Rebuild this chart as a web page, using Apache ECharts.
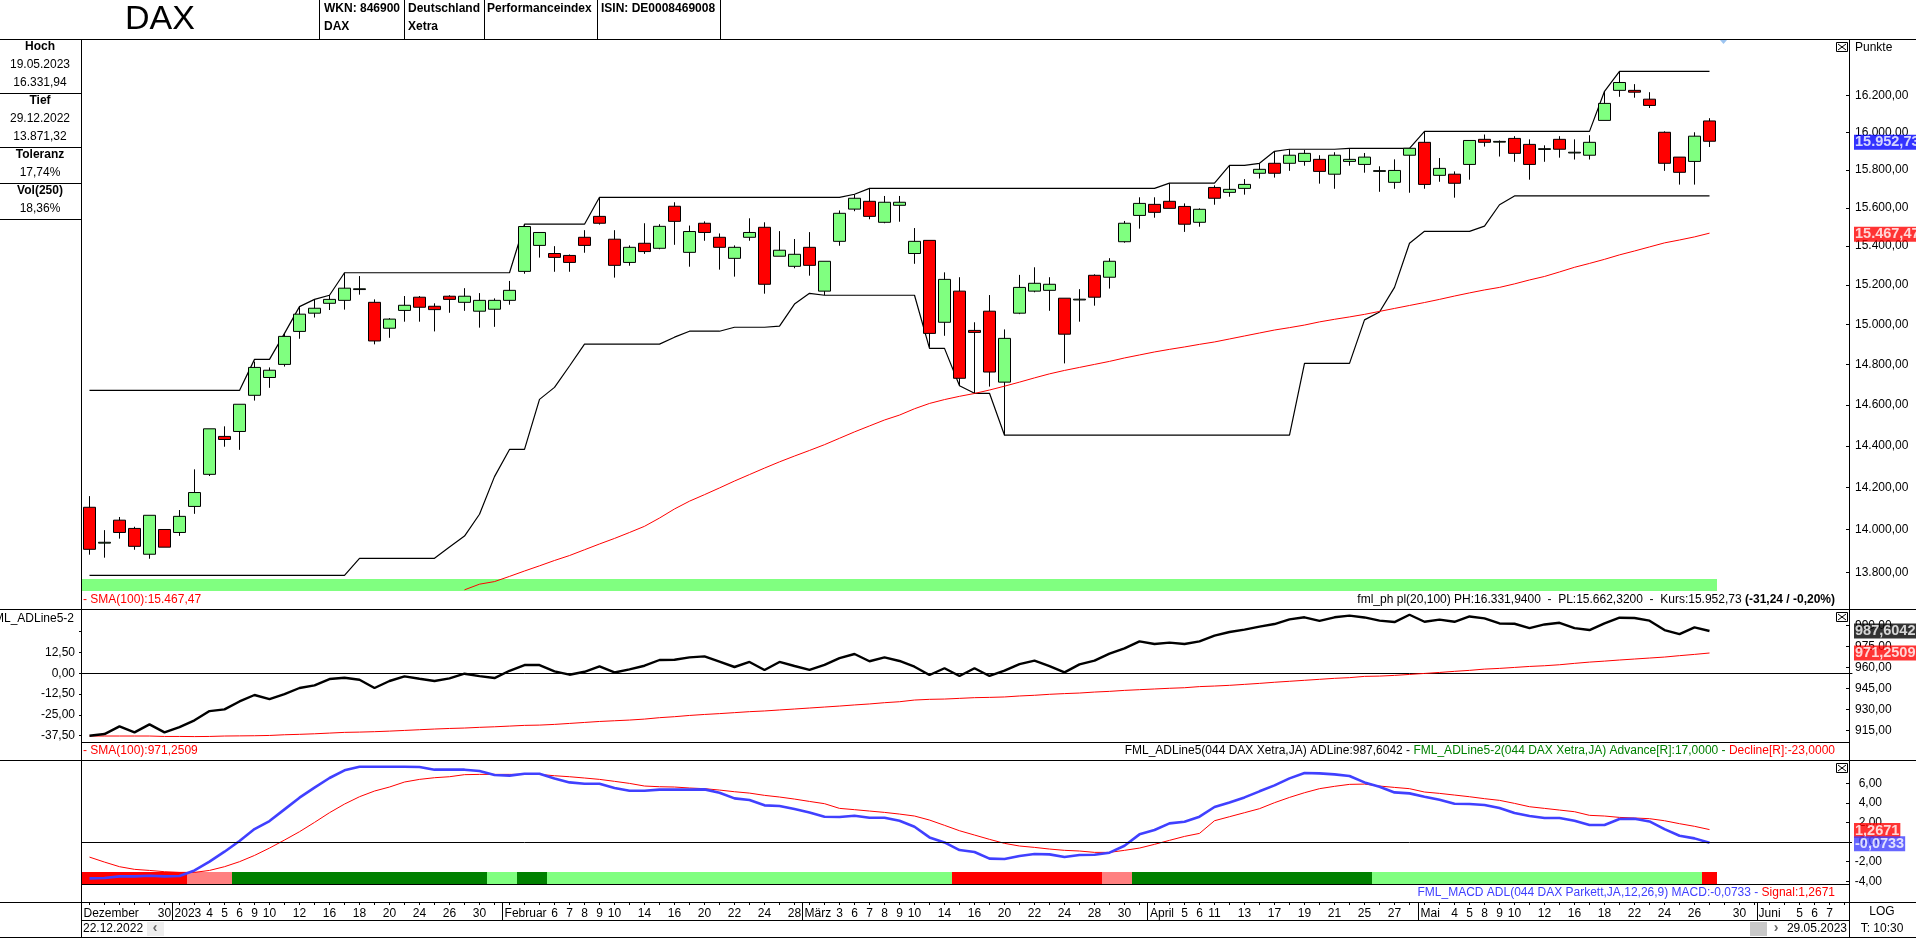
<!DOCTYPE html>
<html>
<head>
<meta charset="utf-8">
<title>DAX</title>
<script src="https://cdn.jsdelivr.net/npm/echarts@6/dist/echarts.min.js"></script>
<style>
html,body{margin:0;padding:0;background:#fff;overflow:hidden}
#chart{width:1916px;height:938px}
</style>
</head>
<body>
<div id="chart"></div>
<script>
// open, close, low, high
var candles = [
[14106,13908,13883,14159],[13937,13941,13869,13998],[14045,13987,13958,14060],[14006,13922,13906,14014],[13885,14068,13864,14068],
[14001,13918,13918,14001],[13987,14063,13971,14093],[14110,14176,14075,14287],[14263,14483,14255,14483],[14446,14431,14396,14495],
[14470,14603,14381,14603],[14647,14785,14621,14814],[14735,14771,14684,14785],[14800,14940,14789,14955],[14965,15052,14928,15090],
[15057,15082,15035,15127],[15107,15127,15073,15149],[15122,15184,15075,15263],[15177,15181,15151,15246],[15112,14917,14900,15127],
[14981,15027,14933,15032],[15071,15097,15014,15144],[15138,15087,15014,15144],[15092,15075,14965,15107],[15143,15127,15059,15148],
[15112,15143,15069,15184],[15067,15122,14984,15159],[15077,15122,14988,15132],[15122,15173,15100,15221],[15270,15502,15258,15514],
[15404,15471,15341,15471],[15362,15342,15268,15400],[15352,15316,15268,15357],[15446,15404,15366,15483],[15555,15519,15512,15655],
[15436,15301,15238,15483],[15316,15394,15299,15404],[15415,15372,15360,15519],[15389,15503,15384,15514],[15608,15529,15407,15629],
[15368,15476,15294,15507],[15519,15471,15428,15529],[15446,15394,15279,15466],[15337,15394,15243,15404],[15446,15471,15428,15545],
[15498,15204,15156,15524],[15348,15379,15348,15478],[15296,15358,15286,15437],[15394,15301,15248,15473],[15169,15322,15149,15322],
[15425,15571,15402,15586],[15593,15650,15582,15671],[15634,15555,15540,15702],[15524,15629,15519,15662],[15613,15629,15527,15662],
[15362,15425,15309,15494],[15430,14955,14885,15430],[15011,15229,14943,15265],[15169,14731,14693,15240],[14970,14960,14658,15011],
[15067,14762,14690,15149],[14712,14930,14452,14975],[15057,15188,15052,15252],[15169,15209,15163,15291],[15173,15204,15069,15240],
[15133,14951,14805,15133],[15124,15128,15014,15179],[15250,15138,15095,15255],[15240,15322,15182,15338],[15423,15519,15418,15531],
[15560,15623,15491,15655],[15618,15576,15548,15655],[15634,15597,15597,15729],[15607,15514,15474,15623],[15524,15592,15501,15597],
[15707,15650,15616,15718],[15681,15697,15658,15824],[15702,15723,15669,15751],[15782,15803,15754,15835],[15835,15782,15759,15899],
[15835,15878,15795,15910],[15845,15888,15822,15906],[15856,15792,15727,15878],[15777,15878,15700,15894],[15845,15856,15822,15915],
[15829,15868,15785,15890],[15792,15796,15684,15819],[15734,15797,15700,15856],[15878,15915,15679,15915],[15947,15723,15700,16006],
[15771,15808,15737,15863],[15777,15729,15653,15792],[15829,15957,15748,15957],[15963,15947,15924,15989],[15948,15952,15871,15957],
[15968,15888,15843,15980],[15936,15829,15748,15963],[15909,15913,15843,15931],[15963,15910,15865,15980],[15890,15894,15855,15963],
[15878,15947,15855,15985],[16065,16157,16065,16223],[16228,16271,16193,16331.94],[16228,16218,16188,16262],[16180,16146,16132,16218],
[16001,15835,15795,16006],[15868,15787,15722,15868],[15845,15980,15722,16001],[16062,15952.73,15922,16077]
];
var channelHigh = [
14671,14671,14671,14671,14671,14671,14671,14671,14671,14671,14671,14825,14825,14955,15090,15127,15148,
15263,15263,15263,15263,15263,15263,15263,15263,15263,15263,15263,15263,
15514,15514,15514,15514,15514,
15655,15655,15655,15655,15655,15655,15655,15655,15655,15655,15655,15655,15655,15655,15655,15655,15655,15671,
15702,15702,15702,15702,15702,15702,15702,15702,15702,15702,15702,15702,15702,15702,15702,15702,15702,15702,15702,15702,
15730,15730,15730,15730,15824,15824,15835,15899,15910,15910,15910,15910,15915,15915,15915,15915,15915,
16006,16006,16006,16006,16006,16006,16006,16006,16006,16006,16006,16006,16223,
16331.94,16331.94,16331.94,16331.94,16331.94,16331.94,16331.94
];
var channelLow = [
13787,13787,13787,13787,13787,13787,13787,13787,13787,13787,13787,13787,13787,13787,13787,13787,13787,13787,
13866,13866,13866,13866,13866,13866,13919,13970,14073,14252,14383,14383,14627,14686,14792,
14901,14901,14901,14901,14901,14901,14936,14966,14966,14966,14986,14986,14986,14992,15103,15158,
15148,15148,15148,15148,15148,15148,15148,14880,14880,14694,14657,14657,
14452,14452,14452,14452,14452,14452,14452,14452,14452,14452,14452,14452,14452,14452,14452,14452,14452,14452,14452,14452,
14805,14805,14805,14805,15023,15063,15188,15415,15477,15477,15477,15477,15504,15616,
15662.32,15662.32,15662.32,15662.32,15662.32,15662.32,15662.32,15662.32,15662.32,15662.32,15662.32,15662.32,15662.32,15662.32
];
var priceSma = [
null,null,null,null,null,null,null,null,null,null,null,null,null,null,null,null,null,null,null,null,null,null,null,null,null,
13720,13746,13758,13782,13807,13831,13856,13879,13906,13933,13959,13987,14016,14055,14098,14135,14166,14198,14231,14262,14293,
14323,14351,14378,14406,14437,14468,14497,14526,14550,14581,14607,14626,14642,14656,14673,14692,14712,14733,14753,14770,14785,
14800,14815,14832,14847,14862,14875,14887,14900,14912,14927,14942,14957,14972,14984,14997,15013,15026,15038,15051,15066,15081,
15096,15111,15127,15144,15160,15175,15188,15206,15226,15244,15267,15291,15311,15332,15355,15375,15396,15417,15432,15448,15467.47
];
var adLine = [
911.4,912.6,918.1,913.8,919.5,913.8,917.6,922.4,929,930.2,935.9,940.5,937.6,941.2,945.5,947.4,951.9,952.8,951.4,945.5,
950.5,953.8,952.1,950.5,952.4,955.7,954,952.6,957.8,961.9,961.9,957.4,955,957.1,960.9,956.6,958.8,961.4,965.5,965.7,967.4,
968.1,964.3,960.5,964.1,958.4,964.1,961.2,958.4,962,966.9,969.8,964.6,967.4,964.8,960.7,954.8,959.6,954.1,959.6,954.1,
957.9,962.6,965,961.2,956.7,962.4,965,970,973.8,978.8,976.9,977.9,976.9,978.8,982.9,985.5,987.2,989.3,991.2,994.5,996,993.4,996,997.2,
995.9,993.6,992.6,997.8,992.8,994.3,992.8,996.6,995.2,991.6,991.4,988.3,990.9,992.1,988.3,986.9,991.6,995.7,995.5,993.6,986.9,984,988.8,986.2
];
var adSma = [
911.2,911.2,911.2,911.2,911.2,910.9,910.9,910.8,910.9,911.2,911.3,911.4,911.6,912.1,912.4,912.8,913.3,913.8,914,914.3,
914.7,915.2,915.7,916.2,916.6,916.9,917.4,917.8,918.3,918.8,919,919.5,920.2,920.9,921.6,922.1,922.6,923.3,924.3,925,925.9,
926.6,927.2,927.9,928.6,929.1,929.8,930.5,931.2,931.9,932.6,933.4,934.1,935,935.7,936.9,937.4,937.6,938.1,938.6,938.8,
939.1,939.8,940.3,941,941.5,941.9,942.6,943.1,943.8,944.3,944.8,945.3,945.7,946.5,946.9,947.4,948.1,948.8,949.6,950.3,951,951.7,952.4,952.9,
953.8,954,954.5,955.2,955.9,956.6,957.4,958.1,959,959.5,960.2,960.9,961.4,962.1,963.1,964,964.7,965.5,966.2,966.9,967.6,968.6,969.5,970.5
];
var macdLine = [
-3.71,-3.68,-3.51,-3.51,-3.44,-3.51,-3.47,-2.9,-2.01,-0.99,0.1,1.32,2.14,3.33,4.52,5.54,6.53,7.31,7.68,7.68,7.68,7.68,7.65,
7.38,7.38,7.38,7.24,6.83,6.77,6.97,6.97,6.49,6.08,5.95,5.95,5.51,5.23,5.23,5.34,5.34,5.34,
5.37,5.03,4.45,4.28,3.74,3.67,3.36,3.02,2.58,2.55,2.68,2.48,2.48,2.17,1.56,0.47,-0.04,-0.82,-1.02,-1.7,-1.74,-1.43,-1.23,-1.26,-1.53,-1.33,-1.3,-1.09,
-0.38,0.78,1.22,1.9,2.07,2.58,3.57,4.04,4.55,5.17,5.78,6.49,7.04,7,6.9,6.73,
6.08,5.64,5.06,4.96,4.62,4.31,3.91,3.87,3.77,3.46,2.95,2.65,2.45,2.45,2.17,1.73,1.73,2.34,2.38,2.1,1.32,0.64,0.37,-0.0733
];
var macdSignal = [
-1.54,-2.05,-2.52,-2.79,-2.9,-3.03,-3.1,-3.1,-2.9,-2.52,-2.01,-1.37,-0.62,0.2,1.05,2,2.99,3.87,4.62,5.2,5.61,6.12,6.39,
6.56,6.66,6.87,6.9,6.9,6.9,6.9,6.9,6.76,6.66,6.53,6.39,6.19,5.98,5.71,5.64,5.61,5.51,
5.44,5.3,5.13,4.99,4.76,4.59,4.38,4.14,3.91,3.43,3.3,3.16,3.02,2.85,2.65,2.24,1.7,1.15,0.71,0.27,-0.14,-0.41,-0.55,-0.72,-0.85,-0.92,-1.06,-1.06,
-0.85,-0.62,-0.24,0.17,0.57,0.88,2.17,2.58,2.99,3.4,4.01,4.55,5.03,5.44,5.68,5.88,
5.91,5.71,5.57,5.44,5.1,4.96,4.79,4.62,4.42,4.25,3.94,3.6,3.43,3.26,3.09,2.72,2.65,2.51,2.45,2.38,2.17,1.87,1.6,1.2671
];
// status strips: L light green, D dark green, R red, P pink
var priceStatus = [
'L','L','L','L','L','L','L','L','L','L','L','L','L','L','L','L','L','L','L','L','L','L','L','L','L','L','L','L','L','L',
'L','L','L','L','L','L','L','L','L','L','L','L','L','L','L','L','L','L','L','L','L','L','L','L','L','L','L','L','L','L',
'L','L','L','L','L','L','L','L','L','L','L','L','L','L','L','L','L','L','L','L','L','L','L','L','L','L','L','L','L','L',
'L','L','L','L','L','L','L','L','L','L','L','L','L','L','L','L','L','L','L'
];
var macdStatus = [
'R','R','R','R','R','R','R','P','P','P',
'D','D','D','D','D','D','D','D','D','D','D','D','D','D','D','D','D','L','L','D','D',
'L','L','L','L','L','L','L','L','L','L','L','L','L','L','L','L','L','L','L','L','L','L','L','L','L','L','L',
'R','R','R','R','R','R','R','R','R','R','P','P',
'D','D','D','D','D','D','D','D','D','D','D','D','D','D','D','D',
'L','L','L','L','L','L','L','L','L','L','L','L','L','L','L','L','L','L','L','L','L','L','R'
];
var tickLabels = [
'','','','','','30','','','4','5',
'6','9','10','','12','','16','','18','',
'20','','24','','26','','30','','','',
'','6','7','8','9','10','','14','','16',
'','20','','22','','24','','28','','',
'3','6','7','8','9','10','','14','','16',
'','20','','22','','24','','28','','30',
'','','','5','6','11','','13','','17',
'','19','','21','','25','','27','','',
'','4','5','8','9','10','','12','','16',
'','18','','22','','24','','26','','',
'30','','','','5','6','7',''
];
var monthNames = ['Dezember','2023','Februar','März','April','Mai','Juni'];
var monthStarts = [0.1,6.17,28.17,48.17,71.2,89.24,111.77];
var monthBreaks = [6,28,48,71,89.1,111.67];
var priceTicks = [13800,14000,14200,14400,14600,14800,15000,15200,15400,15600,15800,16000,16200];
var adTicks = [915,930,945,960,975,990];
var advTicks = [-37.5,-25,-12.5,0,12.5,25];
var macdTicks = [-4,-2,0,2,4,6];

var FONT = '"Liberation Sans",Arial,sans-serif';
var statusColors = {L:'#80ff80',D:'#008000',R:'#ff0000',P:'#ff8080'};

function fmt(v){
	return v.toLocaleString('de-DE',{minimumFractionDigits:2,maximumFractionDigits:2});
}
function hiddenCat(grid){
	return {type:'category',gridIndex:grid,data:tickLabels,show:false,axisLine:{onZero:false}};
}
function txt(x,y,text,bold,align,size,color){
	return {type:'text',x:x,y:y,z:20,silent:true,style:{text:text,fill:color||'#000',
		font:(bold?'bold ':'')+(size||12)+'px '+FONT,align:align||'left',verticalAlign:'middle',
		textAlign:align||'left',textVerticalAlign:'middle'}};
}
function box(x,y,w,h,color){
	return {type:'rect',silent:true,z:15,shape:{x:x,y:y,width:w,height:h},style:{fill:color||'#000'}};
}
function seg(x1,y1,x2,y2){
	return {type:'line',silent:true,z:16,shape:{x1:x1,y1:y1,x2:x2,y2:y2},style:{stroke:'#000',lineWidth:1}};
}
function closeMark(y){
	return [{type:'rect',silent:true,z:16,shape:{x:1836.5,y:y+0.5,width:11,height:9},style:{fill:'#fff',stroke:'#000',lineWidth:1}},
		seg(1838,y+2,1846,y+8),seg(1846,y+2,1838,y+8)];
}
function richStrip(y,text,rich){
	var r = {};
	for (var k in rich) r[k] = {fill:rich[k],font:'12px '+FONT};
	r.b = {fill:'#000',font:'bold 12px '+FONT};
	return {type:'text',x:1835,y:y,z:20,silent:true,style:{text:text,rich:r,align:'right',verticalAlign:'middle',
		textAlign:'right',textVerticalAlign:'middle'}};
}
function tag(xIdx,yIdx,value,text,bg,dy){
	return {type:'scatter',xAxisIndex:xIdx,yAxisIndex:yIdx,symbolSize:0,z:10,silent:true,
		data:[[117,value]],
		label:{show:true,position:'right',distance:9.5,offset:[0,dy],formatter:text,color:'#fff',fontFamily:FONT,fontWeight:'bold',
			fontSize:14.5,backgroundColor:bg,padding:[0,1,0,1],lineHeight:15}};
}
function strip(xIdx,yIdx,status){
	return {type:'bar',xAxisIndex:xIdx,yAxisIndex:yIdx,barWidth:'100%',z:1,silent:true,
		data:status.map(function(s){return {value:1,itemStyle:{color:statusColors[s]}};})};
}
function thinLine(xIdx,yIdx,data,color,width,z){
	return {type:'line',xAxisIndex:xIdx,yAxisIndex:yIdx,data:data,symbol:'none',silent:true,z:z||3,
		lineStyle:{color:color,width:width},animation:false};
}

var graphics = [
	// frame
	box(0,39,1916,1), box(0,609,1916,1), box(82,742,1767,1), box(0,760,1916,1), box(82,884,1767,1),
	box(0,902,1916,1), box(82,920,1767,1), box(0,937,1916,1),
	box(81,39,1,898), box(1849,39,1,898),
	// header
	box(319,0,1,39), box(404,0,1,39), box(484,0,1,39), box(597,0,1,39), box(720,0,1,39),
	txt(160,20,'DAX',false,'center',34),
	txt(324,9,'WKN: 846900',true), txt(324,27,'DAX',true),
	txt(408,9,'Deutschland',true), txt(408,27,'Xetra',true),
	txt(487,9,'Performanceindex',true), txt(601,9,'ISIN: DE0008469008',true),
	// left stats
	box(0,93,81,1), box(0,147,81,1), box(0,183,81,1), box(0,219,81,1),
	txt(40,47,'Hoch',true,'center'), txt(40,65,'19.05.2023',false,'center'), txt(40,83,'16.331,94',false,'center'),
	txt(40,101,'Tief',true,'center'), txt(40,119,'29.12.2022',false,'center'), txt(40,137,'13.871,32',false,'center'),
	txt(40,155,'Toleranz',true,'center'), txt(40,173,'17,74%',false,'center'),
	txt(40,191,'Vol(250)',true,'center'), txt(40,209,'18,36%',false,'center'),
	txt(1855,48,'Punkte'),
	txt(74,619,'FML_ADLine5-2',false,'right'),
	{type:'polygon',silent:true,z:16,shape:{points:[[1720,40],[1727,40],[1723.5,44]]},style:{fill:'#9cc4f0'}},
	// strip texts
	txt(83,599.5,'- SMA(100):15.467,47',false,'left',12,'#ff0000'),
	richStrip(599.5,'{k|fml_ph pl(20,100) PH:16.331,9400  -  PL:15.662,3200  -  Kurs:15.952,73 }{b|(-31,24 / -0,20%)}',{k:'#000'}),
	txt(83,751,'- SMA(100):971,2509',false,'left',12,'#ff0000'),
	richStrip(751,'{k|FML_ADLine5(044 DAX Xetra,JA) ADLine:987,6042 - }{g|FML_ADLine5-2(044 DAX Xetra,JA) Advance[R]:17,0000 - }{r|Decline[R]:-23,0000}',{k:'#000',g:'#008000',r:'#ff0000'}),
	richStrip(893,'{u|FML_MACD ADL(044 DAX Parkett,JA,12,26,9) MACD:-0,0733 - }{r|Signal:1,2671}',{u:'#4040ff',r:'#ff0000'}),
	// footer
	txt(83,929,'22.12.2022'),
	box(147,922,17,14,'#eeeeee'), txt(155,928.5,'‹',true,'center',14,'#666'),
	box(1750,922,17,14,'#c8c8c8'), txt(1776,928.5,'›',true,'center',14,'#666'),
	txt(1847,929,'29.05.2023',false,'right'),
	txt(1882,912,'LOG',false,'center'), txt(1882,929,'T: 10:30',false,'center')
].concat(closeMark(42),closeMark(612),closeMark(763));

var myChart = echarts.init(document.getElementById('chart'));
var option = {
	animation:false,
	backgroundColor:'#fff',
	grid:[
		{left:82,width:1770,top:39,height:570},
		{left:82,width:1770,top:609,height:133},
		{left:82,width:1770,top:760,height:142},
		{left:82,width:1770,top:579,height:12},
		{left:82,width:1770,top:872,height:12}
	],
	xAxis:[
		hiddenCat(0),
		{type:'category',gridIndex:1,data:tickLabels,axisTick:{show:false},axisLabel:{show:false},
			axisLine:{show:true,onZero:true,onZeroAxisIndex:2,lineStyle:{color:'#000',width:1}}},
		{type:'category',gridIndex:2,position:'bottom',data:tickLabels,
			axisLine:{show:false,onZero:false},
			axisTick:{show:true,interval:0,alignWithLabel:true,length:3,lineStyle:{color:'#000'}},
			axisLabel:{show:true,interval:0,margin:6,fontFamily:FONT,fontSize:12,color:'#000',hideOverlap:false}},
		{type:'value',gridIndex:2,position:'bottom',min:0,max:118,splitLine:{show:false},
			axisLine:{show:false,onZero:false},
			axisTick:{show:true,length:18,customValues:monthBreaks,lineStyle:{color:'#000'}},
			axisLabel:{show:true,margin:6,align:'left',fontFamily:FONT,fontSize:12,color:'#000',hideOverlap:false,
				customValues:monthStarts,formatter:function(v){return monthNames[monthStarts.indexOf(v)];}}},
		hiddenCat(3),
		hiddenCat(4)
	],
	yAxis:[
		{type:'log',gridIndex:0,position:'right',offset:-3,min:13631.8,max:16510.6,splitLine:{show:false},
			axisLine:{show:false,onZero:false},
			axisTick:{show:true,inside:true,length:3,customValues:priceTicks,lineStyle:{color:'#000'}},
			axisLabel:{show:true,customValues:priceTicks,margin:6,padding:[2,0,0,0],fontFamily:FONT,fontSize:12,color:'#000',showMinLabel:true,showMaxLabel:true,
				formatter:function(v){return fmt(v);}}},
		{type:'value',gridIndex:1,position:'right',offset:-3,min:906.93,max:1001.93,splitLine:{show:false},
			axisLine:{show:false,onZero:false},
			axisTick:{show:true,inside:true,length:3,customValues:adTicks,lineStyle:{color:'#000'}},
			axisLabel:{show:true,customValues:adTicks,margin:6,padding:[3,0,0,0],fontFamily:FONT,fontSize:12,color:'#000',
				formatter:function(v){return fmt(v);}}},
		{type:'value',gridIndex:1,position:'left',min:-41.29,max:38.64,splitLine:{show:false},
			axisLine:{show:false,onZero:false},
			axisTick:{show:true,length:3,customValues:advTicks,lineStyle:{color:'#000'}},
			axisLabel:{show:true,customValues:advTicks,margin:7,fontFamily:FONT,fontSize:12,color:'#000',
				formatter:function(v){return v===25?'':fmt(v);}}},
		{type:'value',gridIndex:2,position:'right',offset:-3,min:-6.122,max:8.367,splitLine:{show:false},
			axisLine:{show:false,onZero:false},
			axisTick:{show:true,inside:true,length:3,customValues:macdTicks,lineStyle:{color:'#000'}},
			axisLabel:{show:true,customValues:macdTicks,align:'right',margin:33,fontFamily:FONT,fontSize:12,color:'#000',
				formatter:function(v){return fmt(v);}}},
		{type:'value',gridIndex:3,min:0,max:1,show:false},
		{type:'value',gridIndex:4,min:0,max:1,show:false}
	],
	series:[
		strip(4,4,priceStatus),
		{type:'candlestick',xAxisIndex:0,yAxisIndex:0,data:candles,barWidth:12,z:4,silent:true,
			itemStyle:{color:'#80ff80',color0:'#ff0000',borderColor:'#000',borderColor0:'#000',borderWidth:1}},
		thinLine(0,0,channelHigh,'#000',1.2),
		thinLine(0,0,channelLow,'#000',1.2),
		thinLine(0,0,priceSma,'#ff0000',1,5),
		tag(0,0,15952.73,'15.952,73','#0000ff',1),
		tag(0,0,15467.47,'15.467,47','#ff0000',1),
		thinLine(1,1,adSma,'#ff0000',1),
		thinLine(1,1,adLine,'#000',2.4,4),
		tag(1,1,987.6042,'987,6042','#000',2),
		tag(1,1,971.2509,'971,2509','#ff0000',1),
		strip(5,5,macdStatus),
		{type:'line',xAxisIndex:2,yAxisIndex:3,data:macdSignal,symbol:'none',silent:true,z:3,
			lineStyle:{color:'#ff0000',width:1},
			markLine:{silent:true,symbol:'none',animation:false,label:{show:false},lineStyle:{color:'#000',width:1,type:'solid'},data:[{yAxis:0}]}},
		thinLine(2,3,macdLine,'#4040ff',2.6,4),
		tag(2,3,1.2671,'1,2671','#ff0000',1),
		tag(2,3,-0.0733,'-0,0733','#4040ff',1)
	],
	graphic:graphics
};
myChart.setOption(option);
</script>
</body>
</html>
